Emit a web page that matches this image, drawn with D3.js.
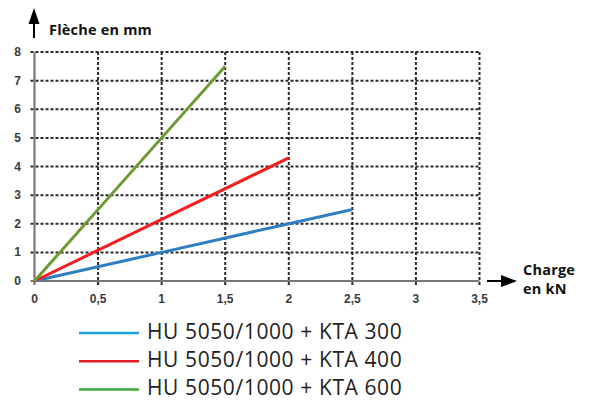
<!DOCTYPE html>
<html>
<head>
<meta charset="utf-8">
<script src="https://cdn.jsdelivr.net/npm/d3@7"></script>
<style>
  body { margin: 0; background: #fff; }
  .tick-label { font-family: "Liberation Sans", Arial, sans-serif; font-weight: bold; font-size: 12px; fill: #3a3a3a; }
  .axis-title { font-family: "Open Sans", sans-serif; font-weight: bold; font-size: 14.5px; fill: #111; letter-spacing: 0.2px; }
  .legend-text { font-family: "Open Sans", sans-serif; font-size: 21px; fill: #222; letter-spacing: 0.6px; }
</style>
</head>
<body>
<svg id="chart" width="592" height="401"></svg>
<script>
// data
let xTicks = [0, 0.5, 1, 1.5, 2, 2.5, 3, 3.5];
let yTicks = [0, 1, 2, 3, 4, 5, 6, 7, 8];
let seriesNames = ["HU 5050/1000 + KTA 300", "HU 5050/1000 + KTA 400", "HU 5050/1000 + KTA 600"];
let blueSeries = [[0, 0], [1, 1.0], [2, 2.0], [2.5, 2.5]];
let redSeries = [[0, 0], [1, 2.15], [2, 4.3]];
let greenSeries = [[0, 0], [1, 5.0], [1.5, 7.5]];
let lineColors = ["#2e7fc2", "#f51d1d", "#6b9b31"];
let legendColors = ["#1b9fe0", "#e01f26", "#3daa3a"];

let svg = d3.select("#chart");
let xScale = d3.scaleLinear().domain([0, 3.5]).range([34.5, 479.5]);
let yScale = d3.scaleLinear().domain([0, 8]).range([281, 52]);

// grid
let grid = svg.append("g");
grid.selectAll("line.h")
    .data(yTicks.filter(d => d > 0))
    .enter().append("line")
    .attr("x1", xScale(0) - 4)
    .attr("x2", xScale(3.5))
    .attr("y1", d => yScale(d))
    .attr("y2", d => yScale(d))
    .attr("stroke", "#2a2a2a")
    .attr("stroke-width", 2)
    .attr("stroke-dasharray", "3,2");
grid.selectAll("line.v")
    .data(xTicks.filter(d => d > 0))
    .enter().append("line")
    .attr("x1", d => xScale(d))
    .attr("x2", d => xScale(d))
    .attr("y1", yScale(8))
    .attr("y2", yScale(0) + 4)
    .attr("stroke", "#2a2a2a")
    .attr("stroke-width", 2)
    .attr("stroke-dasharray", "3,2");

// axes
svg.append("line")
    .attr("x1", xScale(0) - 4).attr("x2", xScale(3.5))
    .attr("y1", yScale(0)).attr("y2", yScale(0))
    .attr("stroke", "#777").attr("stroke-width", 2.2);
svg.append("line")
    .attr("x1", xScale(0)).attr("x2", xScale(0))
    .attr("y1", yScale(8)).attr("y2", yScale(0) + 4)
    .attr("stroke", "#777").attr("stroke-width", 2.2);

// tick labels
svg.selectAll("text.xt")
    .data(xTicks)
    .enter().append("text")
    .attr("class", "tick-label")
    .attr("x", d => xScale(d))
    .attr("y", 303)
    .attr("text-anchor", "middle")
    .text(d => String(d).replace(".", ","));
svg.selectAll("text.yt")
    .data(yTicks)
    .enter().append("text")
    .attr("class", "tick-label")
    .attr("x", 21)
    .attr("y", d => yScale(d) + 4)
    .attr("text-anchor", "end")
    .text(d => d);

// series
let line = d3.line()
    .x(d => xScale(d[0]))
    .y(d => yScale(d[1]));
[blueSeries, redSeries, greenSeries].forEach(function (s, i) {
    svg.append("path")
        .datum(s)
        .attr("d", line)
        .attr("fill", "none")
        .attr("stroke", lineColors[i])
        .attr("stroke-width", 3);
});

// axis arrows + titles
svg.append("line")
    .attr("x1", 34).attr("x2", 34).attr("y1", 38).attr("y2", 20)
    .attr("stroke", "#000").attr("stroke-width", 2);
svg.append("path")
    .attr("d", "M34,8 L28.5,24 L39.5,24 Z")
    .attr("fill", "#000");
svg.append("text")
    .attr("class", "axis-title")
    .attr("x", 49).attr("y", 35)
    .text("Flèche en mm");

svg.append("line")
    .attr("x1", 487).attr("x2", 504).attr("y1", 281).attr("y2", 281)
    .attr("stroke", "#000").attr("stroke-width", 2);
svg.append("path")
    .attr("d", "M517,281 L501,275 L501,287 Z")
    .attr("fill", "#000");
svg.append("text")
    .attr("class", "axis-title")
    .attr("x", 523).attr("y", 275)
    .text("Charge");
svg.append("text")
    .attr("class", "axis-title")
    .attr("x", 523).attr("y", 294)
    .text("en kN");

// legend
let legend = svg.append("g");
seriesNames.forEach(function (name, i) {
    let y = 333 + i * 28.3;
    legend.append("line")
        .attr("x1", 79).attr("x2", 139)
        .attr("y1", y).attr("y2", y)
        .attr("stroke", legendColors[i])
        .attr("stroke-width", 2.5);
    legend.append("text")
        .attr("class", "legend-text")
        .attr("x", 147).attr("y", y + 5.5)
        .text(name);
});
</script>
</body>
</html>
